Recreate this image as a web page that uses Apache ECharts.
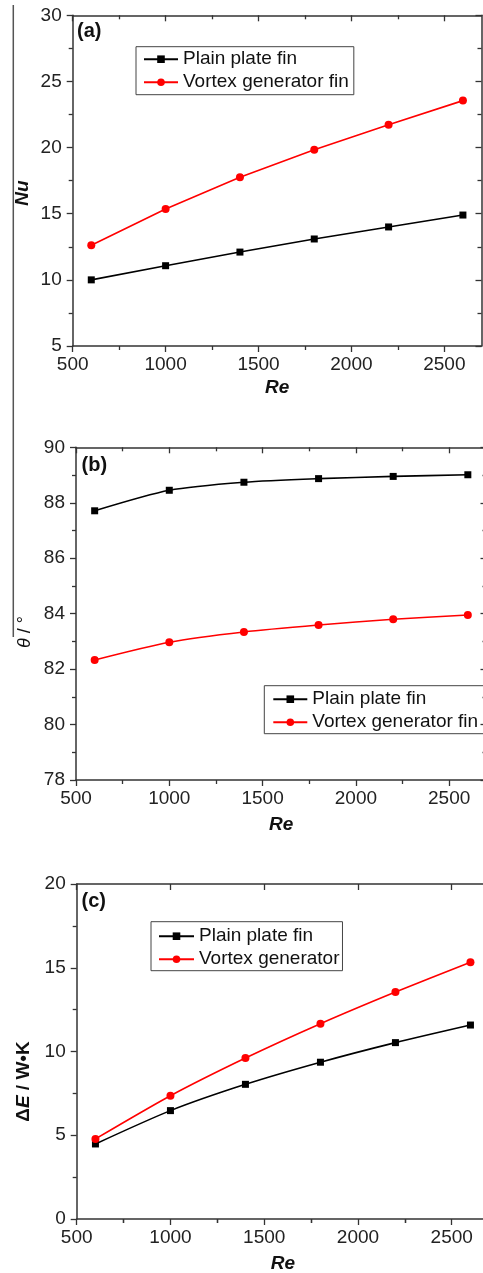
<!DOCTYPE html>
<html><head><meta charset="utf-8">
<script src="https://cdn.jsdelivr.net/npm/echarts@6/dist/echarts.min.js"></script>
<style>html,body{margin:0;padding:0;background:#fff}#c{width:483px;height:1273px}</style>
</head><body><div id="c"></div>
<script>
// ---- data ----
const re = [600, 1000, 1400, 1800, 2200, 2600];
const nuPlain = [10.0, 11.07, 12.1, 13.09, 14.0, 14.9];
const nuVortex = [12.61, 15.36, 17.75, 19.84, 21.73, 23.55];
const thetaPlain = [87.71, 88.45, 88.74, 88.87, 88.95, 89.01];
const thetaVortex = [82.33, 82.97, 83.34, 83.59, 83.80, 83.95];
const dePlain = [4.48, 6.47, 8.04, 9.36, 10.53, 11.58];
const deVortex = [4.78, 7.36, 9.61, 11.66, 13.55, 15.33];
const seriesNames = ['Plain plate fin', 'Vortex generator fin', 'Vortex generator'];
const xMajorTicks = [500, 1000, 1500, 2000, 2500];
const xMinorTicks = [750, 1250, 1750, 2250];
const panelLabels = ['(a)', '(b)', '(c)'];

const FONT = '"Liberation Sans", Arial, sans-serif';
const AX = '#333';
const panels = [
  { grid: { left: 72.7, top: 15.3, width: 408.8, height: 330.7 }, yMin: 5, yMax: 30, yInt: 5,
    plain: nuPlain, vortex: nuVortex, vName: seriesNames[1], smooth: false, nameGap: 32,
    legend: { left: 136, top: 46.7, padding: [3, 5, 3, 7], itemWidth: 34 } },
  { grid: { left: 76, top: 447.3, width: 410.5, height: 332.7 }, yMin: 78, yMax: 90, yInt: 2,
    plain: thetaPlain, vortex: thetaVortex, vName: seriesNames[1], smooth: 0.25, nameGap: 35,
    legend: { left: 264.3, top: 685.7, padding: [4, 6, 2, 8], itemWidth: 34 } },
  { grid: { left: 76.7, top: 884, width: 412.5, height: 335 }, yMin: 0, yMax: 20, yInt: 5,
    plain: dePlain, vortex: deVortex, vName: seriesNames[2], smooth: 0.25, nameGap: 35,
    legend: { left: 151, top: 921.7, padding: [5, 3, 2, 7], itemWidth: 35 } }
];

const plainFmt = v => String(v);
const grid = [], xAxis = [], yAxis = [], series = [], legend = [];
panels.forEach((p, i) => {
  grid.push(Object.assign({ outerBoundsMode: 'none', containLabel: false }, p.grid));
  const xBase = { gridIndex: i, type: 'value', min: 500, max: 2700, splitLine: { show: false } };
  const tickLS = { color: AX, width: 1.3 };
  xAxis.push(Object.assign({}, xBase, {
    position: 'bottom',
    axisLine: { show: true, onZero: false, lineStyle: { color: AX, width: 1.5 } },
    axisTick: { show: true, customValues: xMajorTicks, length: 6, lineStyle: tickLS },
    axisLabel: { customValues: xMajorTicks, formatter: plainFmt, fontSize: 19, fontFamily: FONT, color: '#222', margin: 9 },
    name: 'Re', nameLocation: 'middle', nameGap: p.nameGap,
    nameTextStyle: { fontSize: 19, fontWeight: 'bold', fontStyle: 'italic', fontFamily: FONT, color: '#111' }
  }));
  xAxis.push(Object.assign({}, xBase, {
    position: 'bottom', axisLine: { show: false },
    axisTick: { show: true, customValues: xMinorTicks, length: 4, lineStyle: tickLS },
    axisLabel: { show: false }
  }));
  xAxis.push(Object.assign({}, xBase, {
    position: 'top',
    axisLine: { show: true, onZero: false, lineStyle: { color: AX, width: 1.5 } },
    axisTick: { show: true, inside: true, customValues: xMajorTicks, length: 6, lineStyle: tickLS },
    axisLabel: { show: false }
  }));
  xAxis.push(Object.assign({}, xBase, {
    position: 'top', axisLine: { show: false },
    axisTick: { show: true, inside: true, customValues: xMinorTicks, length: 4, lineStyle: tickLS },
    axisLabel: { show: false }
  }));
  const yBase = { gridIndex: i, type: 'value', min: p.yMin, max: p.yMax, interval: p.yInt, splitLine: { show: false },
    minorTick: { show: true, splitNumber: 2, length: 4, lineStyle: tickLS } };
  yAxis.push(Object.assign({}, yBase, {
    position: 'left',
    axisLine: { show: true, onZero: false, lineStyle: { color: AX, width: 1.5 } },
    axisTick: { show: true, length: 6, lineStyle: tickLS },
    axisLabel: { formatter: plainFmt, fontSize: 19, fontFamily: FONT, color: '#222', margin: 11 }
  }));
  yAxis.push(Object.assign({}, yBase, {
    position: 'right',
    axisLine: { show: true, onZero: false, lineStyle: { color: AX, width: 1.5 } },
    axisTick: { show: true, inside: true, length: 6, lineStyle: tickLS },
    axisLabel: { show: false }
  }));
  series.push({
    type: 'line', name: seriesNames[0], xAxisIndex: 4 * i, yAxisIndex: 2 * i,
    data: re.map((x, k) => [x, p.plain[k]]), smooth: p.smooth,
    symbol: 'rect', symbolSize: 7, color: '#000',
    lineStyle: { color: '#000', width: 1.6 }, itemStyle: { color: '#000' }, z: 3
  });
  series.push({
    type: 'line', name: p.vName, xAxisIndex: 4 * i, yAxisIndex: 2 * i,
    data: re.map((x, k) => [x, p.vortex[k]]), smooth: p.smooth,
    symbol: 'circle', symbolSize: 8, color: '#ff0000',
    lineStyle: { color: '#ff0000', width: 1.6 }, itemStyle: { color: '#ff0000' }, z: 4
  });
  legend.push(Object.assign({
    orient: 'vertical', data: [seriesNames[0], p.vName], selectedMode: false,
    borderColor: '#444', borderWidth: 1, itemHeight: 9.5, itemGap: 4,
    textStyle: { fontSize: 19, fontFamily: FONT, color: '#111' }
  }, p.legend));
});

const txt = (t, x, y) => ({
  type: 'text', x: x, y: y, silent: true,
  style: { text: t, fontSize: 20, fontWeight: 'bold', fontFamily: FONT, fill: '#111',
    align: 'left', verticalAlign: 'middle', textAlign: 'left', textVerticalAlign: 'middle' }
});

const graphic = [
  { type: 'line', silent: true, shape: { x1: 13.3, y1: 5, x2: 13.3, y2: 637 }, style: { stroke: '#555', lineWidth: 1.5 } },
  txt(panelLabels[0], 77, 31.7),
  txt(panelLabels[1], 81.5, 465),
  txt(panelLabels[2], 81.5, 901),
  { type: 'text', x: 23, y: 193, rotation: Math.PI / 2, silent: true,
    style: { text: 'Nu', fontSize: 19, fontWeight: 'bold', fontStyle: 'italic', fontFamily: FONT, fill: '#111',
      align: 'center', verticalAlign: 'middle', textAlign: 'center', textVerticalAlign: 'middle' } },
  { type: 'text', x: 25, y: 632, rotation: Math.PI / 2, silent: true,
    style: { text: '{i|θ}{n| / °}', fill: '#111', align: 'center', verticalAlign: 'middle', textAlign: 'center', textVerticalAlign: 'middle',
      rich: { i: { fontSize: 18, fontStyle: 'italic', fontFamily: FONT, fill: '#111' },
              n: { fontSize: 18, fontFamily: FONT, fill: '#111' } } } },
  { type: 'text', x: 23.3, y: 1081.5, rotation: Math.PI / 2, silent: true,
    style: { text: '{b|Δ}{bi|E}{b| / W•K}', fill: '#111', align: 'center', verticalAlign: 'middle', textAlign: 'center', textVerticalAlign: 'middle',
      rich: { b: { fontSize: 19, fontWeight: 'bold', fontFamily: FONT, fill: '#111' },
              bi: { fontSize: 19, fontWeight: 'bold', fontStyle: 'italic', fontFamily: FONT, fill: '#111' } } } }
];

const chart = echarts.init(document.getElementById('c'), null, { renderer: 'canvas' });
chart.setOption({
  animation: false, backgroundColor: '#fff',
  grid, xAxis, yAxis, series, legend, graphic
});
</script>
</body></html>
